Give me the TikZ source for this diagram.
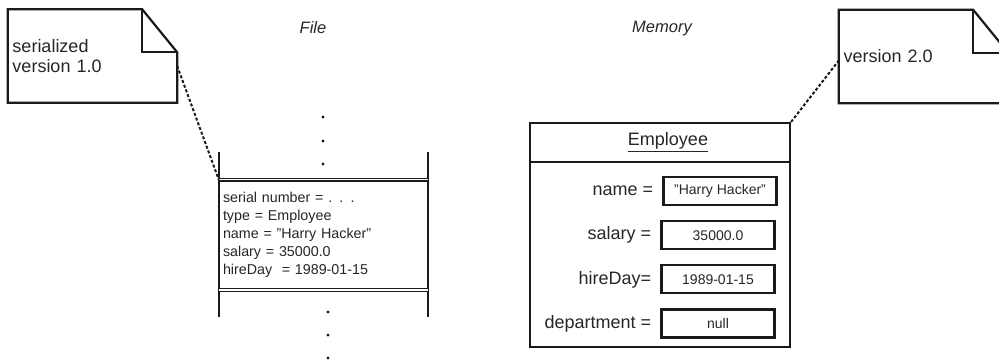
\documentclass[tikz,border=0pt]{standalone}
\usepackage{fontspec}
\setmainfont{Liberation Sans}
\usetikzlibrary{positioning}
\definecolor{figline}{HTML}{1A1A1A}
\definecolor{figtext}{HTML}{262626}

% note outline with a folded corner
\newcommand{\dogear}[1]{%
  \draw[noteline] (#1.north west) -- ([xshift=-35pt]#1.north east)
    -- ([yshift=-43pt]#1.north east) -- (#1.south east) -- (#1.south west) -- cycle;
  \draw[noteline] ([xshift=-35pt]#1.north east) |- ([yshift=-43pt]#1.north east);}

\begin{document}
\begin{tikzpicture}[x=1pt, y=-1pt,
  note/.style={minimum width=169pt, minimum height=93pt, inner sep=4pt,
               text width=160pt, align=left, text=figtext,
               font=\fontsize{18}{20}\selectfont},
  noteline/.style={draw=figline, line width=2.2pt, line join=miter},
  heading/.style={text=figtext, font=\fontsize{16.5}{18}\selectfont\itshape},
  record/.style={minimum width=209pt, minimum height=110pt, inner sep=4pt,
                 text width=201pt, align=left, text=figtext,
                 font=\fontsize{14.3}{18}\selectfont},
  wall/.style={draw=figline, line width=2.2pt},
  rule/.style={draw=figline, line width=1.1pt, double=white, double distance=1.4pt},
  classbox/.style={draw=figline, line width=2.2pt, minimum width=260pt,
                   minimum height=224pt, inner sep=0pt},
  classname/.style={minimum height=40pt, text=figtext,
                    font=\fontsize{18}{20}\selectfont},
  field/.style={draw=figline, line width=2.2pt, minimum width=113pt,
                minimum height=28pt, inner sep=0pt, text=figtext,
                font=\fontsize{14}{16}\selectfont},
  fname/.style={text=figtext, font=\fontsize{18}{20}\selectfont, inner sep=0pt},
  link/.style={draw=figline, line width=2pt, dash pattern=on 3pt off 2pt},
  node distance=14pt
]
\useasboundingbox (0,0) rectangle (999,363);

% notes
\node[note] (oldnote) at (92.5,56) {serialized\\version 1.0};
\dogear{oldnote}
\node[note] (newnote) at (923.5,56.5) {version 2.0};
\dogear{newnote}

% headings
\node[heading] (filehead) at (313,28) {File};
\node[heading] (memhead) at (662,29) {Memory};

% file stream
\node[record] (rec) at (323.5,235) {serial number = . . .\\
  type = Employee\\
  name = "Harry Hacker"\\
  salary = 35000.0\\
  hireDay\ \ = 1989-01-15};
\draw[wall] ([yshift=28pt]rec.north west) -- ([yshift=-27pt]rec.south west);
\draw[wall] ([yshift=28pt]rec.north east) -- ([yshift=-27pt]rec.south east);
\draw[rule] (rec.north west) -- (rec.north east);
\draw[rule] (rec.south west) -- (rec.south east);
\foreach \y in {117,141,164} \fill[figline] (323,\y) circle (1.6pt);
\foreach \y in {312,335,358} \fill[figline] (328,\y) circle (1.6pt);

% object in memory
\node[classbox] (emp) at (660,235) {};
\node[classname, anchor=north, xshift=8pt] (empname) at (emp.north) {\underline{Employee}};
\draw[wall] (empname.south -| emp.west) -- (empname.south -| emp.east);
\node[field] (vname) at (720,191) {"Harry Hacker"};
\node[field, below=of vname.south east, anchor=north east, xshift=-2pt] (vsalary) {35000.0};
\node[field, below=of vsalary] (vhire) {1989-01-15};
\node[field, below=of vhire] (vdept) {null};
\node[fname, left=9pt of vname] (lname) {name =};
\node[fname, left=9pt of vsalary] (lsalary) {salary =};
\node[fname, left=9pt of vhire] (lhire) {hireDay=};
\node[fname, left=9pt of vdept] (ldept) {department =};

% note links
\draw[link] ([yshift=-10pt]oldnote.east) -- (rec.north west);
\draw[link] (emp.north east) -- ([yshift=-4pt]newnote.west);
\end{tikzpicture}
\end{document}
